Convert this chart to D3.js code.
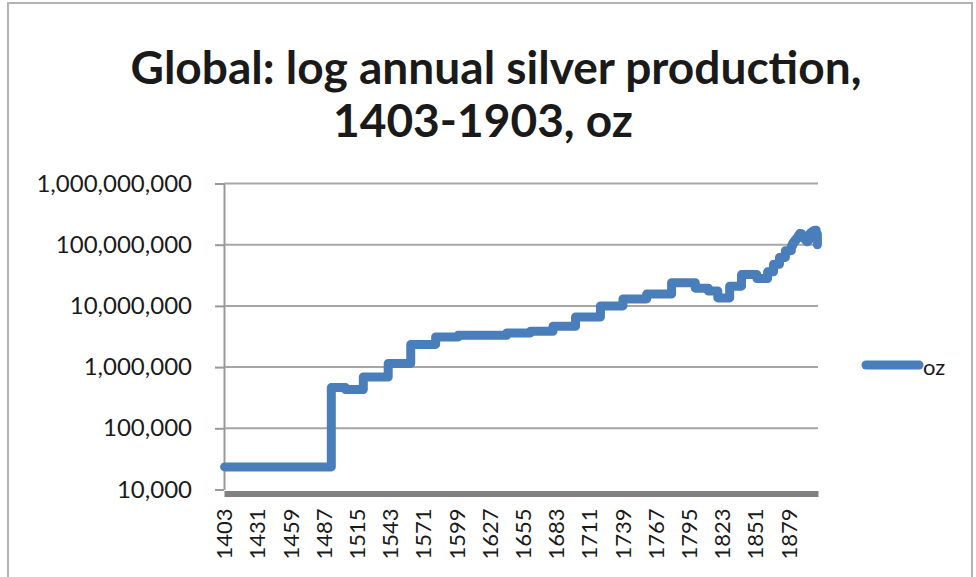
<!DOCTYPE html>
<html>
<head>
<meta charset="utf-8">
<script src="https://cdn.jsdelivr.net/npm/d3@7"></script>
<style>
  body { margin: 0; background: #fff; }
  svg { display: block; }
  text { font-family: Lato, "Open Sans", sans-serif; fill: #1a1a1a; }
</style>
</head>
<body>
<div id="chart"></div>
<script>
// Categories: one per year, 1403..1903
const firstYear = 1403;
const lastYear = 1903;

// Production estimates (oz per year), each value holds from its start year
// until the next start year.
const periodStart = [1403, 1493, 1505, 1520, 1541, 1560, 1581, 1600, 1641, 1661,
  1680, 1699, 1720, 1739, 1759, 1780, 1800, 1811, 1819, 1829, 1839, 1852, 1861,
  1866, 1871, 1876, 1881, 1882, 1883, 1884, 1885, 1886, 1887, 1888, 1889, 1890,
  1891, 1892, 1893, 1894, 1895, 1896, 1897, 1898, 1899, 1900, 1901, 1902, 1903];
const ozPerYear = [23400, 462000, 431000, 690000, 1150000, 2350000, 3100000,
  3320000, 3620000, 3860000, 4660000, 6600000, 10000000, 13000000, 15600000,
  24000000, 19500000, 17500000, 13500000, 21000000, 32500000, 28000000, 36000000,
  48000000, 62000000, 80000000, 95000000, 105000000, 112000000, 118000000,
  125000000, 132000000, 142000000, 152000000, 150000000, 140000000, 130000000,
  125000000, 118000000, 112000000, 120000000, 140000000, 155000000, 162000000,
  166000000, 170000000, 172000000, 150000000, 100000000];

const xTickYears = [1403, 1431, 1459, 1487, 1515, 1543, 1571, 1599, 1627, 1655,
  1683, 1711, 1739, 1767, 1795, 1823, 1851, 1879];
const yTickValues = [10000, 100000, 1000000, 10000000, 100000000, 1000000000];

const titleLines = ["Global: log annual silver production,", "1403-1903, oz"];
const seriesName = "oz";

const width = 976, height = 577;
const plot = { left: 224, right: 818, top: 183.5, bottom: 489.5 };
const blue = "#4a7ebb";

const svg = d3.select("#chart").append("svg")
  .attr("width", width)
  .attr("height", height);

// chart frame
svg.append("rect")
  .attr("x", 8).attr("y", 3)
  .attr("width", 964).attr("height", 590)
  .attr("fill", "none")
  .attr("stroke", "#b3b3b3")
  .attr("stroke-width", 2);

// title, sized to the reference width
const t1 = svg.append("text")
  .attr("x", 496).attr("y", 84)
  .attr("text-anchor", "middle")
  .style("font-weight", "bold")
  .style("font-size", "40px")
  .text(titleLines[0]);
const fit = 40 * 731 / t1.node().getComputedTextLength();
t1.style("font-size", fit + "px");
svg.append("text")
  .attr("x", 483).attr("y", 137)
  .attr("text-anchor", "middle")
  .style("font-weight", "bold")
  .style("font-size", fit + "px")
  .text(titleLines[1]);

const years = d3.range(firstYear, lastYear + 1);
const x = d3.scaleBand().domain(years).range([plot.left, plot.right]);
const xc = d => x(d) + x.bandwidth() / 2;
const y = d3.scaleLog().domain([1e4, 1e9]).range([plot.bottom, plot.top]);

// gridlines
svg.append("g")
  .selectAll("line")
  .data(yTickValues.slice(1))
  .join("line")
  .attr("x1", plot.left).attr("x2", plot.right)
  .attr("y1", d => y(d)).attr("y2", d => y(d))
  .attr("stroke", "#a6a6a6")
  .attr("stroke-width", 2);

// y axis
const yAxis = svg.append("g")
  .attr("transform", `translate(${plot.left},0)`)
  .call(d3.axisLeft(y)
    .tickValues(yTickValues)
    .tickFormat(d3.format(","))
    .tickSize(9)
    .tickSizeOuter(0)
    .tickPadding(23));
yAxis.select(".domain").attr("stroke", "#999").attr("stroke-width", 2);
yAxis.selectAll(".tick line").attr("stroke", "#999").attr("stroke-width", 2);
yAxis.selectAll(".tick text")
  .style("font-size", "24px")
  .style("font-family", "Lato, sans-serif")
  .attr("fill", "#1a1a1a");

// x axis
const xAxis = svg.append("g")
  .attr("transform", `translate(0,${plot.bottom + 4})`)
  .call(d3.axisBottom(x)
    .tickValues(xTickYears)
    .tickSize(0)
    .tickSizeOuter(0));
xAxis.select(".domain").attr("stroke", "#808080").attr("stroke-width", 6);
xAxis.selectAll(".tick text")
  .attr("transform", "rotate(-90)")
  .attr("x", -15)
  .attr("y", 0)
  .attr("dy", "0.35em")
  .attr("text-anchor", "end")
  .style("font-size", "22px")
  .style("font-family", "Lato, sans-serif")
  .attr("fill", "#1a1a1a");

// series
const series = periodStart.map((yr, i) => ({ year: yr, oz: ozPerYear[i] }));
const line = d3.line()
  .x(d => xc(d.year))
  .y(d => y(d.oz))
  .curve(d3.curveStepAfter);

svg.append("path")
  .datum(series)
  .attr("d", line)
  .attr("fill", "none")
  .attr("stroke", blue)
  .attr("stroke-width", 9)
  .attr("stroke-linejoin", "round")
  .attr("stroke-linecap", "round");

// legend
svg.append("line")
  .attr("x1", 866).attr("x2", 919)
  .attr("y1", 365).attr("y2", 365)
  .attr("stroke", blue)
  .attr("stroke-width", 9)
  .attr("stroke-linecap", "round");
svg.append("text")
  .attr("x", 923).attr("y", 367)
  .attr("dy", "0.35em")
  .style("font-size", "22px")
  .text(seriesName);
</script>
</body>
</html>
